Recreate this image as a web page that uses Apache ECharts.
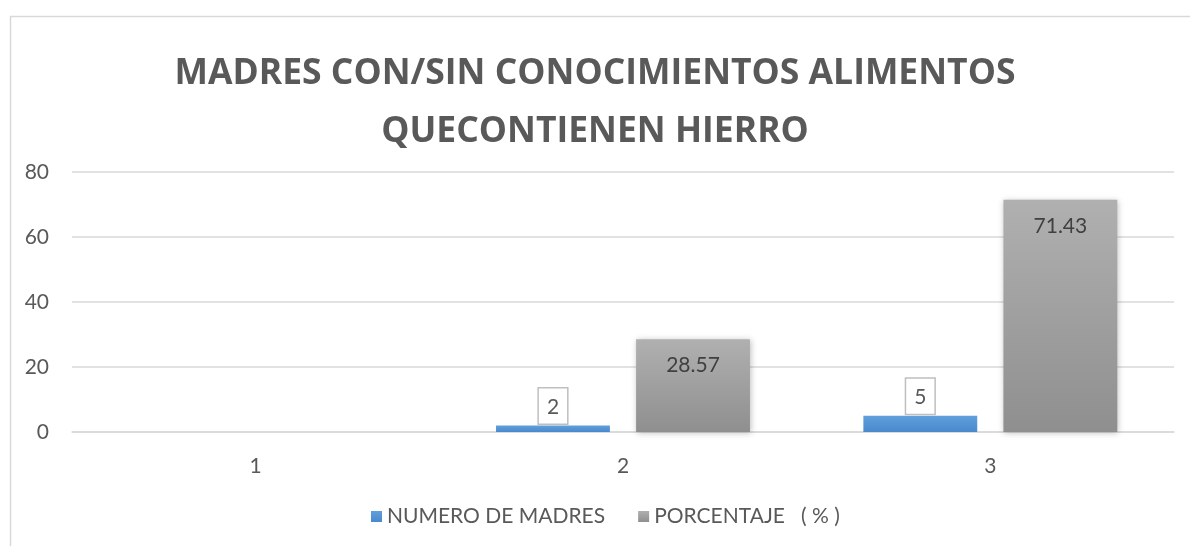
<!DOCTYPE html>
<html>
<head>
<meta charset="utf-8">
<script src="https://cdn.jsdelivr.net/npm/echarts@6/dist/echarts.min.js"></script>
<style>
  html, body { margin: 0; padding: 0; background: #fff; }
  #chart { width: 1190px; height: 546px; }
</style>
</head>
<body>
<div id="chart"></div>
<script>
// data
const categories = ["1", "2", "3"];
const madres = [null, 2, 5];
const porcentaje = [null, 28.57, 71.43];
const yTicks = [0, 20, 40, 60, 80];

const textGrey = "#595959";
const lineGrey = "#d9d9d9";
const font = "Lato, 'Open Sans', sans-serif";
const titleFont = "'Open Sans', 'Noto Sans', sans-serif";

const chart = echarts.init(document.getElementById("chart"), null, { renderer: "canvas" });

const option = {
  backgroundColor: "#fff",
  animation: false,
  textStyle: { fontFamily: font, color: textGrey },
  graphic: [
    {
      type: "rect",
      left: 8, top: 14,
      shape: { width: 1200, height: 600 },
      style: { fill: "none", stroke: lineGrey, lineWidth: 1.5 },
      silent: true,
    },
  ],
  title: {
    text: "MADRES CON/SIN CONOCIMIENTOS ALIMENTOS\nQUECONTIENEN HIERRO",
    left: "center",
    top: 40,
    textStyle: {
      fontFamily: titleFont,
      fontSize: 35.5,
      fontWeight: "bold",
      color: textGrey,
      lineHeight: 58,
    },
  },
  legend: {
    bottom: 14,
    left: 366,
    itemWidth: 11,
    itemHeight: 11,
    itemGap: 33,
    icon: "rect",
    textStyle: { fontSize: 21, color: textGrey, fontFamily: font },
    data: ["NUMERO DE MADRES", "PORCENTAJE   ( % )"],
  },
  grid: { left: 72, right: 16, top: 172, bottom: 114, containLabel: false },
  xAxis: {
    type: "category",
    data: categories,
    axisLine: { lineStyle: { color: lineGrey, width: 1.5 } },
    axisTick: { show: false },
    axisLabel: { fontSize: 21, color: textGrey, margin: 24, fontFamily: font },
  },
  yAxis: {
    type: "value",
    min: yTicks[0],
    max: yTicks[yTicks.length - 1],
    interval: 20,
    axisLine: { show: false },
    axisTick: { show: false },
    splitLine: { lineStyle: { color: lineGrey, width: 1.5 } },
    axisLabel: { fontSize: 21, color: textGrey, margin: 23, fontFamily: font },
  },
  series: [
    {
      name: "NUMERO DE MADRES",
      type: "bar",
      data: madres,
      barWidth: "31%",
      barGap: "23%",
      itemStyle: {
        color: new echarts.graphic.LinearGradient(0, 0, 0, 1, [
          { offset: 0, color: "#5fa0dc" },
          { offset: 1, color: "#4a88cc" },
        ]),
      },
      label: {
        show: true,
        position: "top",
        distance: 2,
        fontSize: 21,
        color: textGrey,
        fontFamily: font,
        backgroundColor: "#fff",
        borderColor: "#bfbfbf",
        borderWidth: 1.5,
        padding: [8, 8, 6, 8],
      },
    },
    {
      name: "PORCENTAJE   ( % )",
      type: "bar",
      data: porcentaje,
      barWidth: "31%",
      itemStyle: {
        color: new echarts.graphic.LinearGradient(0, 0, 0, 1, [
          { offset: 0, color: "#b0b0b0" },
          { offset: 1, color: "#8f8f8f" },
        ]),
        shadowColor: "rgba(0,0,0,0.25)",
        shadowBlur: 6,
        shadowOffsetX: 1,
        shadowOffsetY: 1,
      },
      label: {
        show: true,
        position: "insideTop",
        distance: 16,
        fontSize: 21,
        color: "#404040",
        fontFamily: font,
      },
    },
  ],
};

chart.setOption(option);
window.addEventListener("resize", () => chart.resize());
</script>
</body>
</html>
